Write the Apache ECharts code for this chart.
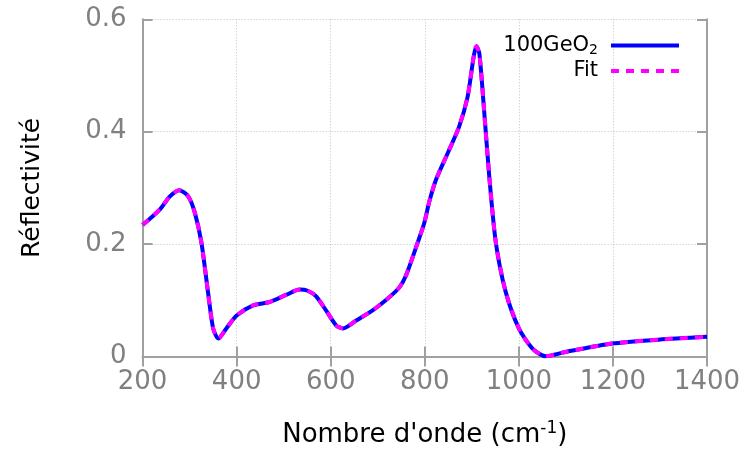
<!DOCTYPE html>
<html><head><meta charset="utf-8">
<script src="https://cdn.jsdelivr.net/npm/echarts@6/dist/echarts.min.js"></script>
<style>html,body{margin:0;padding:0;background:#fff}#c{width:747px;height:453px}</style>
</head><body><div id="c"></div>
<script>
const wavenumbers = [200,237,258,278,297,311,325,339,350,361,378,400,435,470,506,534,551,569,590,612,626,654,689,725,746,760,785,799,810,824,852,873,891,910,916,926,937,951,972,1000,1029,1057,1099,1198,1297,1400];
const measured = [0.234,0.262,0.285,0.296,0.285,0.256,0.203,0.115,0.050,0.032,0.050,0.073,0.091,0.097,0.110,0.119,0.117,0.107,0.082,0.055,0.050,0.064,0.082,0.106,0.123,0.144,0.203,0.238,0.277,0.315,0.368,0.409,0.462,0.552,0.539,0.439,0.321,0.203,0.115,0.050,0.014,0.0005,0.008,0.023,0.030,0.035];
const fitValues = [0.234,0.262,0.285,0.296,0.285,0.256,0.203,0.115,0.050,0.032,0.050,0.073,0.091,0.097,0.110,0.119,0.117,0.107,0.082,0.055,0.050,0.064,0.082,0.106,0.123,0.144,0.203,0.238,0.277,0.315,0.368,0.409,0.462,0.552,0.539,0.439,0.321,0.203,0.115,0.050,0.014,0.0005,0.008,0.023,0.030,0.035];
const xTicks = [200,1400,200];
const yTicks = [0,0.6,0.2];

const F = 'DejaVu Sans';
const gridLine = {show:true, lineStyle:{color:'#c0c0c0', type:[1,2], width:1}};
const axisLine = {show:true, lineStyle:{color:'#a0a0a0', width:2}};
const tick = {show:true, inside:true, length:10, lineStyle:{color:'#a0a0a0', width:2}};

const chart = echarts.init(document.getElementById('c'), null, {renderer:'canvas'});
chart.setOption({
  animation:false,
  backgroundColor:'#fff',
  grid:{left:142.6, right:40, top:19.3, bottom:95},
  legend:{
    orient:'vertical', right:61, top:30, align:'right',
    itemWidth:68, itemHeight:20, itemGap:3,
    itemStyle:{opacity:0},
    lineStyle:{width:4},
    textStyle:{fontFamily:F, fontSize:21, color:'#000',
      rich:{n:{fontFamily:F,fontSize:21,color:'#000',padding:[0,8,0,0]}, m:{fontFamily:F,fontSize:21,color:'#000'}, s:{fontFamily:F,fontSize:14,color:'#000',padding:[10,8,0,0]}}},
    formatter: function(name){ return name==='100GeO2' ? '{m|100GeO}{s|2}' : '{n|'+name+'}'; },
    data:['100GeO2','Fit']
  },
  xAxis:[{
    type:'value', min:xTicks[0], max:xTicks[1], interval:xTicks[2],
    axisLine:axisLine, axisTick:tick, splitLine:gridLine,
    axisLabel:{fontFamily:F, fontSize:26, color:'#808080', margin:13, formatter:v=>String(v)},
    name:"Nombre d'onde (cm{sup|-1})", nameLocation:'middle', nameGap:64,
    nameTextStyle:{fontFamily:F, fontSize:26, color:'#000', rich:{sup:{fontFamily:F,fontSize:17,color:'#000',padding:[0,0,12,0]}}}
  },{
    type:'value', position:'top', min:xTicks[0], max:xTicks[1], interval:xTicks[2],
    axisLine:axisLine, axisTick:tick, splitLine:{show:false}, axisLabel:{show:false}
  }],
  yAxis:[{
    type:'value', min:yTicks[0], max:yTicks[1], interval:yTicks[2],
    axisLine:axisLine, axisTick:tick, splitLine:gridLine,
    axisLabel:{fontFamily:F, fontSize:26, color:'#808080', margin:16, formatter:v=>String(v)},
    name:'Réflectivité', nameLocation:'middle', nameGap:98,
    nameTextStyle:{fontFamily:F, fontSize:25, color:'#000'}
  },{
    type:'value', position:'right', min:yTicks[0], max:yTicks[1], interval:yTicks[2],
    axisLine:axisLine, axisTick:tick, splitLine:{show:false}, axisLabel:{show:false}
  }],
  series:[
    {name:'100GeO2', type:'line', symbol:'none', smooth:0.25, data:wavenumbers.map((x,i)=>[x,measured[i]]),
     lineStyle:{color:'#0000ff', width:4}, itemStyle:{color:'#0000ff'}, z:2},
    {name:'Fit', type:'line', symbol:'none', smooth:0.25, data:wavenumbers.map((x,i)=>[x,fitValues[i]]),
     lineStyle:{color:'#ff00ff', width:4, type:[8,7]}, itemStyle:{color:'#ff00ff'}, z:3}
  ]
});
</script></body></html>
